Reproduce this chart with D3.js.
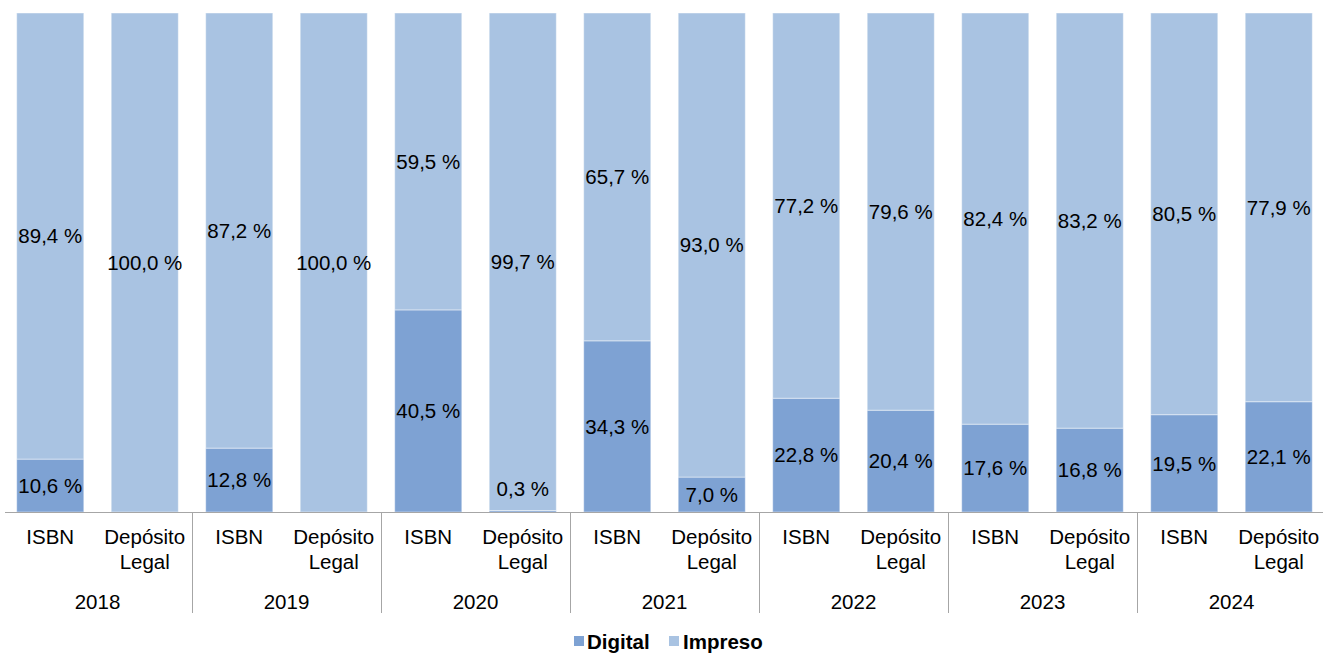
<!DOCTYPE html>
<html>
<head>
<meta charset="utf-8">
<script src="https://cdn.jsdelivr.net/npm/d3@7"></script>
<style>
  html, body { margin: 0; padding: 0; background: #fff; }
  svg { display: block; font-family: "Liberation Sans", Arial, sans-serif; }
</style>
</head>
<body>
<svg id="chart" width="1323" height="653"></svg>
<script>
// Years and the two registers reported for each year
const years = ["2018", "2019", "2020", "2021", "2022", "2023", "2024"];
const registers = ["ISBN", "Depósito Legal"];

// Share of titles (%) per year and register: [ISBN, Depósito Legal]
const digital = [
  [10.6, 0.0],
  [12.8, 0.0],
  [40.5, 0.3],
  [34.3, 7.0],
  [22.8, 20.4],
  [17.6, 16.8],
  [19.5, 22.1]
];
const impreso = [
  [89.4, 100.0],
  [87.2, 100.0],
  [59.5, 99.7],
  [65.7, 93.0],
  [77.2, 79.6],
  [82.4, 83.2],
  [80.5, 77.9]
];

const seriesNames = ["Digital", "Impreso"];
const colors = { Digital: "#7ea2d3", Impreso: "#a9c3e2" };

// Flatten into one row per bar
const rows = [];
years.forEach((y, i) => {
  registers.forEach((r, j) => {
    rows.push({ key: y + "|" + r, year: y, register: r, Digital: digital[i][j], Impreso: impreso[i][j] });
  });
});

const svg = d3.select("#chart");
const plot = { left: 3, right: 1326, top: 13, bottom: 512 };

const x = d3.scaleBand()
  .domain(rows.map(d => d.key))
  .range([plot.left, plot.right])
  .paddingInner(0.29)
  .paddingOuter(0.145);

const yScale = d3.scaleLinear().domain([0, 100]).range([plot.bottom, plot.top]);

const stacked = d3.stack().keys(seriesNames)(rows);

const fmt = v => d3.format(".1f")(v).replace(".", ",") + " %";
const fontSize = 20.5;

// Bars
const layers = svg.append("g").selectAll("g")
  .data(stacked)
  .join("g")
  .attr("fill", s => colors[s.key]);

layers.selectAll("rect")
  .data(s => s.map(p => ({ p, key: s.key })))
  .join("rect")
  .attr("x", d => x(d.p.data.key))
  .attr("width", x.bandwidth())
  .attr("y", d => yScale(d.p[1]))
  .attr("height", d => yScale(d.p[0]) - yScale(d.p[1]))
  .attr("stroke", "#ffffff")
  .attr("stroke-opacity", 0.45)
  .attr("stroke-width", 1);

// Value labels, centred in each segment; tiny segments get lifted clear of the axis
const labels = svg.append("g")
  .attr("font-size", fontSize)
  .attr("fill", "#000")
  .attr("text-anchor", "middle");

stacked.forEach(s => {
  s.forEach(p => {
    const v = p.data[s.key];
    if (v <= 0) return;
    const y0 = yScale(p[0]), y1 = yScale(p[1]);
    let cy = (y0 + y1) / 2;
    if (y0 - y1 < 22) cy = y0 - 23;
    labels.append("text")
      .attr("x", x(p.data.key) + x.bandwidth() / 2)
      .attr("y", cy)
      .attr("dy", "0.36em")
      .text(fmt(v));
  });
});

// Category axis
const axisColor = "#a6a6a6";
svg.append("line")
  .attr("x1", 5).attr("x2", 1323)
  .attr("y1", plot.bottom + 0.5).attr("y2", plot.bottom + 0.5)
  .attr("stroke", axisColor).attr("stroke-width", 1);

const groupWidth = (plot.right - plot.left) / years.length;
years.slice(1).forEach((y, i) => {
  const gx = Math.round(plot.left + groupWidth * (i + 1)) + 0.5;
  svg.append("line")
    .attr("x1", gx).attr("x2", gx)
    .attr("y1", plot.bottom).attr("y2", 613)
    .attr("stroke", axisColor).attr("stroke-width", 1);
});

const catLabels = svg.append("g")
  .attr("font-size", fontSize)
  .attr("fill", "#000")
  .attr("text-anchor", "middle");

rows.forEach(d => {
  const cx = x(d.key) + x.bandwidth() / 2;
  const words = d.register.split(" ");
  const t = catLabels.append("text").attr("x", cx).attr("y", 537).attr("dy", "0.36em");
  words.forEach((w, k) => {
    t.append("tspan").attr("x", cx).attr("dy", k === 0 ? "0.36em" : 25).text(w);
  });
});

years.forEach((y, i) => {
  catLabels.append("text")
    .attr("x", plot.left + groupWidth * (i + 0.5))
    .attr("y", 602)
    .attr("dy", "0.36em")
    .text(y);
});

// Legend
const legend = svg.append("g")
  .attr("font-size", 20.5)
  .attr("font-weight", "bold")
  .attr("fill", "#000");

const legendItems = [
  { name: "Digital", sq: 574, tx: 587 },
  { name: "Impreso", sq: 669, tx: 683 }
];
legendItems.forEach(it => {
  legend.append("rect")
    .attr("x", it.sq).attr("y", 636)
    .attr("width", 10).attr("height", 10)
    .attr("fill", colors[it.name]);
  legend.append("text")
    .attr("x", it.tx).attr("y", 642)
    .attr("dy", "0.36em")
    .text(it.name);
});
</script>
</body>
</html>
